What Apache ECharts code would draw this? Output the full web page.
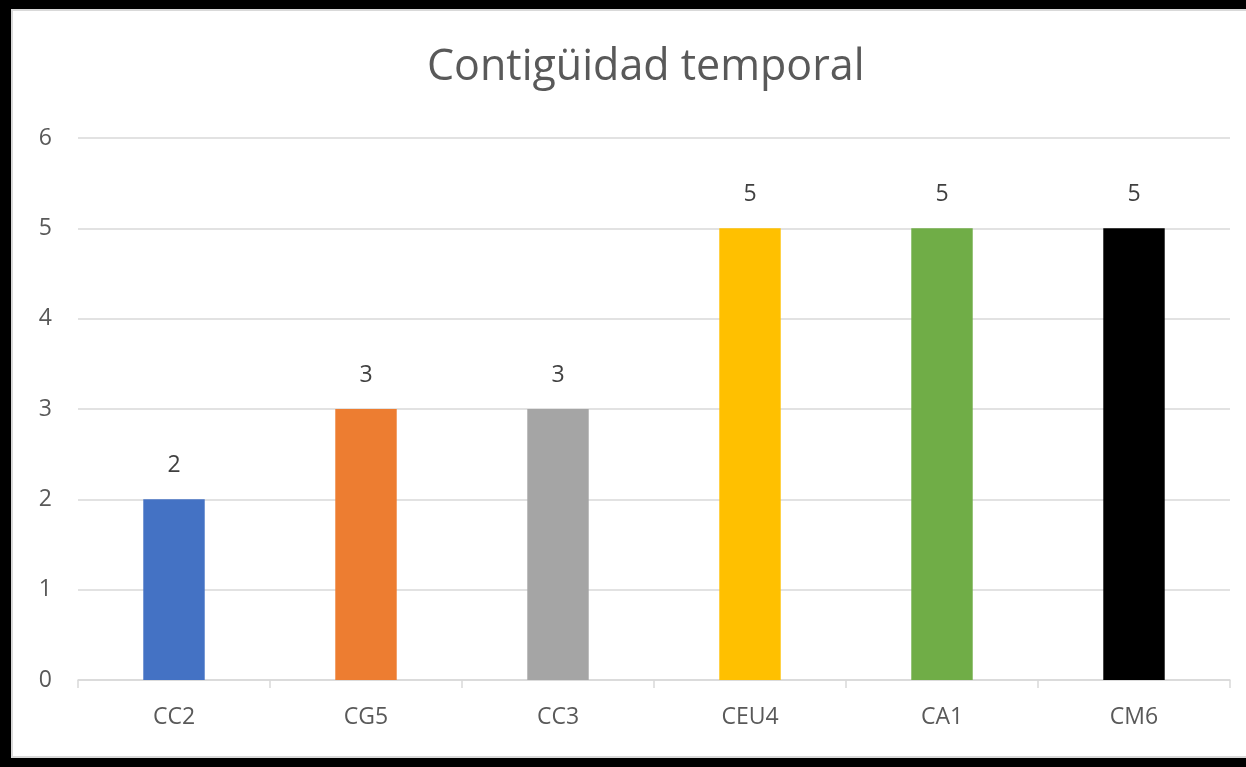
<!DOCTYPE html>
<html>
<head>
<meta charset="utf-8">
<script src="https://cdn.jsdelivr.net/npm/echarts@6/dist/echarts.min.js"></script>
<style>
html,body{margin:0;padding:0;background:#000;}
#c{width:1246px;height:767px;}
</style>
</head>
<body>
<div id="c"></div>
<script>
const categories = ['CC2', 'CG5', 'CC3', 'CEU4', 'CA1', 'CM6'];
const values = [2, 3, 3, 5, 5, 5];
const barColors = ['#4472C4', '#ED7D31', '#A5A5A5', '#FFC000', '#70AD47', '#000000'];
const titleText = 'Contigüidad temporal';

const chart = echarts.init(document.getElementById('c'));
const font = '"Open Sans", "Liberation Sans", sans-serif';
chart.setOption({
  backgroundColor: '#000',
  animation: false,
  graphic: [{
    type: 'rect',
    shape: { x: 12, y: 10, width: 1240, height: 747 },
    style: { fill: '#fff', stroke: '#d9d9d9', lineWidth: 2 },
    z: -10
  }],
  title: {
    text: titleText,
    left: 422,
    top: 41,
    textStyle: { fontFamily: font, fontSize: 43, fontWeight: 'normal', color: '#595959' }
  },
  grid: { left: 78, right: 16, top: 138, bottom: 87 },
  xAxis: {
    type: 'category',
    data: categories,
    axisLine: { lineStyle: { color: '#d9d9d9', width: 1.5 } },
    axisTick: { show: true, length: 8, lineStyle: { color: '#d9d9d9', width: 1.5 } },
    axisLabel: { fontFamily: font, fontSize: 23, color: '#595959', margin: 26 }
  },
  yAxis: {
    type: 'value',
    min: 0, max: 6, interval: 1,
    axisLine: { show: false },
    axisTick: { show: false },
    splitLine: { lineStyle: { color: '#d9d9d9', width: 1.5 } },
    axisLabel: { fontFamily: font, fontSize: 23, color: '#595959', margin: 26 }
  },
  series: [{
    type: 'bar',
    barWidth: '32%',
    data: values.map((v, i) => ({ value: v, itemStyle: { color: barColors[i] } })),
    label: {
      show: true, position: 'top', distance: 22,
      fontFamily: font, fontSize: 23, color: '#404040'
    }
  }]
});
</script>
</body>
</html>
